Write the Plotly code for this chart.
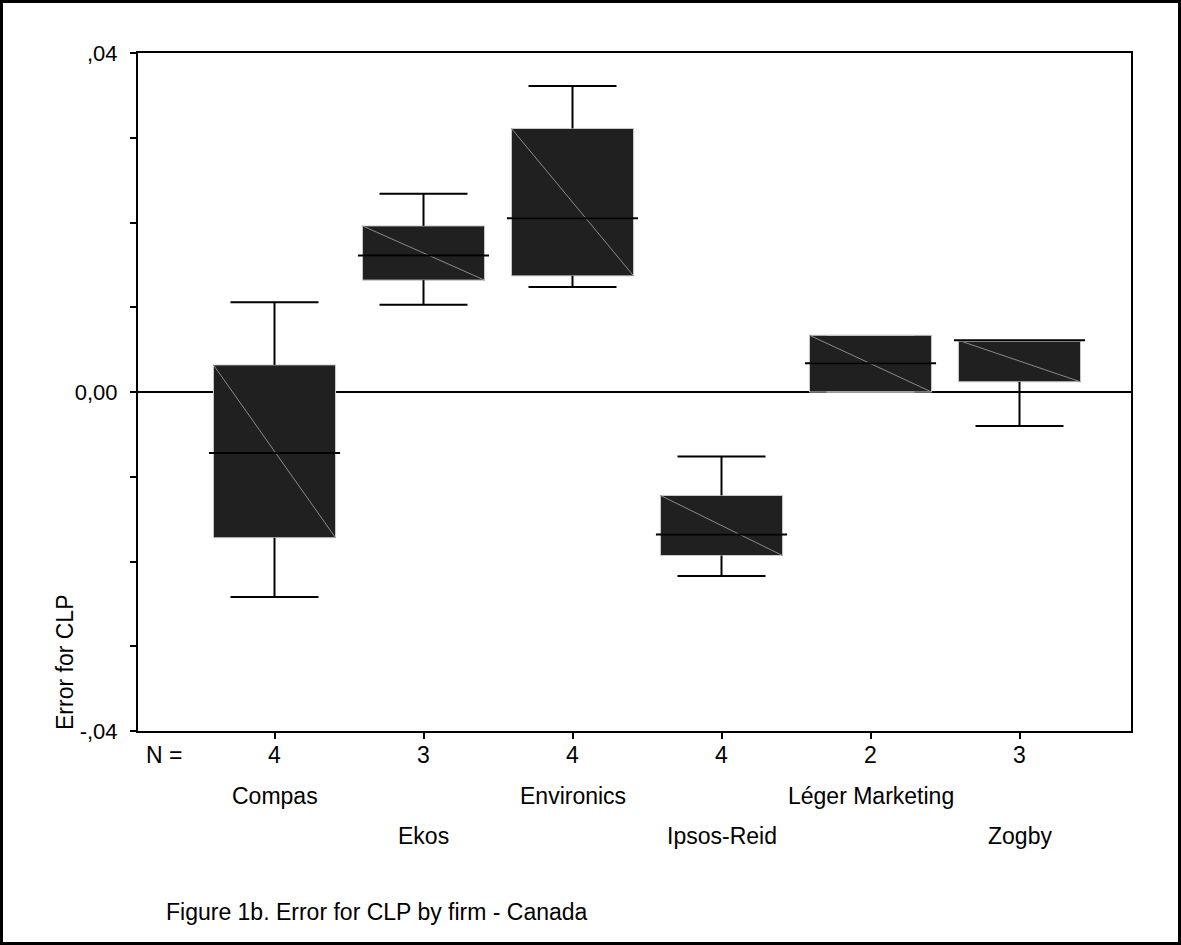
import plotly.graph_objects as go

firms = ["Compas", "Ekos", "Environics", "Ipsos-Reid", "Léger Marketing", "Zogby"]
n_counts = [4, 3, 4, 4, 2, 3]
upper = [0.0106, 0.0234, 0.0361, -0.0076, 0.0067, 0.0061]
q3 = [0.0032, 0.0196, 0.0311, -0.0122, 0.0067, 0.0061]
median = [-0.0072, 0.0161, 0.0205, -0.0168, 0.0034, 0.0061]
q1 = [-0.0172, 0.0132, 0.0137, -0.0193, 0.0000, 0.0012]
lower = [-0.0242, 0.0103, 0.0124, -0.0217, 0.0000, -0.0040]
ytick_vals = [-0.04, -0.03, -0.02, -0.01, 0.0, 0.01, 0.02, 0.03, 0.04]
ytick_text = ["-,04", "", "", "", "0,00", "", "", "", ",04"]

W, H = 1181, 945
L, R, T, B = 138, 1131, 53, 731
pw, ph = R - L, B - T
bw = 0.82
cw = 0.72 * bw
pos = list(range(len(firms)))
FS = 23

fig = go.Figure()
fig.add_trace(go.Box(
    x=pos, q1=q1, median=median, q3=q3, lowerfence=lower, upperfence=upper,
    width=bw, whiskerwidth=0.72, fillcolor="#202020",
    line=dict(color="#cfcfcf", width=1), showlegend=False, hoverinfo="skip",
))

# diagonal hatch line inside each box
dx, dy = [], []
for i in pos:
    dx += [i - bw / 2, i + bw / 2, None]
    dy += [q3[i], q1[i], None]
fig.add_trace(go.Scatter(x=dx, y=dy, mode="lines", line=dict(color="#8a8a8a", width=1),
                         showlegend=False, hoverinfo="skip"))

# whiskers
wx, wy = [], []
for i in pos:
    if upper[i] > q3[i]:
        wx += [i, i, None, i - cw / 2, i + cw / 2, None]
        wy += [q3[i], upper[i], None, upper[i], upper[i], None]
    if lower[i] < q1[i]:
        wx += [i, i, None, i - cw / 2, i + cw / 2, None]
        wy += [q1[i], lower[i], None, lower[i], lower[i], None]
fig.add_trace(go.Scatter(x=wx, y=wy, mode="lines", line=dict(color="black", width=2),
                         showlegend=False, hoverinfo="skip"))

# medians
mx, my = [], []
ext = 0.03
for i in pos:
    mx += [i - bw / 2 - ext, i + bw / 2 + ext, None]
    my += [median[i], median[i], None]
fig.add_trace(go.Scatter(x=mx, y=my, mode="lines", line=dict(color="black", width=2),
                         showlegend=False, hoverinfo="skip"))

font = "Liberation Sans, Arial, sans-serif"
ann = []
ann.append(dict(x=(144 - L) / pw, y=0, xref="paper", yref="paper", text="N =",
                showarrow=False, xanchor="left", yanchor="middle", yshift=-(755 - B),
                font=dict(size=FS)))
for i in pos:
    ann.append(dict(x=i, y=0, xref="x", yref="paper", text=str(n_counts[i]), showarrow=False,
                    xanchor="center", yanchor="middle", yshift=-(755 - B), font=dict(size=FS)))
    row_y = 796 if i % 2 == 0 else 836
    ann.append(dict(x=i, y=0, xref="x", yref="paper", text=firms[i], showarrow=False,
                    xanchor="center", yanchor="middle", yshift=-(row_y - B), font=dict(size=FS)))
ann.append(dict(x=(164 - L) / pw, y=0, xref="paper", yref="paper",
                text="Figure 1b. Error for CLP by firm - Canada", showarrow=False,
                xanchor="left", yanchor="middle", yshift=-(912 - B), font=dict(size=FS)))
ann.append(dict(x=(65 - L) / pw, y=(B - 663) / ph, xref="paper", yref="paper",
                text="Error for CLP", textangle=-90, showarrow=False,
                xanchor="center", yanchor="middle", font=dict(size=FS)))

fig.update_layout(
    width=W, height=H, margin=dict(l=L, r=W - R, t=T, b=H - B),
    paper_bgcolor="white", plot_bgcolor="white",
    font=dict(family=font, size=FS, color="black"),
    annotations=ann,
    shapes=[dict(type="rect", xref="paper", yref="paper",
                 x0=(1.5 - L) / pw, x1=(1179.5 - L) / pw,
                 y0=(B - 943.5) / ph, y1=(B - 1.5) / ph,
                 line=dict(color="black", width=3))],
    xaxis=dict(range=[-(274.5 - L) / 149, 5 + (R - 1019.5) / 149], tickvals=pos,
               ticktext=[""] * len(pos), ticks="outside", ticklen=6, tickwidth=2,
               tickcolor="black", showline=True, linecolor="black", linewidth=2,
               mirror=True, showgrid=False, zeroline=False),
    yaxis=dict(range=[-0.04, 0.04], tickvals=ytick_vals, ticktext=ytick_text,
               ticks="outside", ticklen=6, tickwidth=2, tickcolor="black",
               showline=True, linecolor="black", linewidth=2, mirror=True,
               showgrid=False, zeroline=True, zerolinecolor="black", zerolinewidth=2,
               tickfont=dict(size=22), ticklabelstandoff=8),
)
fig.write_html("out.html")
